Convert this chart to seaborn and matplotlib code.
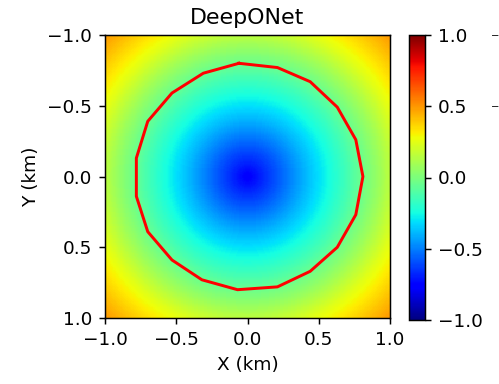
import numpy as np
import pandas as pd
import seaborn as sns
import matplotlib.pyplot as plt

# radial profile of the predicted field
radius_pts = [0.0, 0.2, 0.4, 0.72, 0.93, 1.1, 1.42]
field_pts = [-0.77, -0.59, -0.40, -0.12, 0.08, 0.25, 0.50]

# red contour vertices (x, y in km)
contour_x = [-0.06, 0.21, 0.44, 0.63, 0.76, 0.81, 0.76, 0.63, 0.44, 0.21,
             -0.07, -0.32, -0.53, -0.70, -0.78, -0.78, -0.70, -0.53, -0.31, -0.06]
contour_y = [-0.80, -0.77, -0.67, -0.49, -0.26, 0.00, 0.27, 0.50, 0.67, 0.78,
             0.80, 0.73, 0.59, 0.39, 0.14, -0.13, -0.39, -0.59, -0.73, -0.80]

tick_vals = [-1.0, -0.5, 0.0, 0.5, 1.0]
tick_labels = ["\u22121.0", "\u22120.5", "0.0", "0.5", "1.0"]

# build the field grid
n = 240
coords = np.linspace(-1, 1, n)
xx, yy = np.meshgrid(coords, coords)
rr = np.sqrt(xx**2 + yy**2)
field = np.interp(rr, radius_pts, field_pts)
field_df = pd.DataFrame(field, index=coords, columns=coords)

dpi = 133
fig = plt.figure(figsize=(499 / dpi, 384 / dpi), dpi=dpi)
ax = fig.add_axes([105 / 499, 1 - 318 / 384, 285 / 499, 283 / 384])
cax = fig.add_axes([409 / 499, 1 - 320 / 384, 16 / 499, 285 / 384])

sns.heatmap(field_df, ax=ax, cbar_ax=cax, cmap="jet", vmin=-1, vmax=1,
            xticklabels=False, yticklabels=False, rasterized=True)


def to_cell(v):
    return (np.asarray(v) + 1) / 2 * n


ax.plot(to_cell(contour_x), to_cell(contour_y), color="red", lw=1.6)

for s in ax.spines.values():
    s.set_visible(True)
    s.set_linewidth(0.8)
ax.set_xticks(to_cell(tick_vals))
ax.set_xticklabels(tick_labels, rotation=0)
ax.set_yticks(to_cell(tick_vals))
ax.set_yticklabels(tick_labels, rotation=0)
ax.tick_params(length=3.5, width=0.8)
ax.set_xlabel("X (km)")
ax.set_ylabel("Y (km)")
ax.set_title("DeepONet")

cb = ax.collections[0].colorbar
cb.outline.set_visible(True)
cb.outline.set_linewidth(0.8)
cb.set_ticks(tick_vals)
cb.set_ticklabels(tick_labels)
cax.tick_params(length=3.5, width=0.8)

# minus signs of the neighbouring panel's tick labels at the right edge
fig.text(491 / 499, 1 - 36 / 384, "\u2212", ha="left", va="center", fontsize=5.5)
fig.text(491 / 499, 1 - 107 / 384, "\u2212", ha="left", va="center", fontsize=5.5)

fig.savefig("out.png", dpi=dpi)
